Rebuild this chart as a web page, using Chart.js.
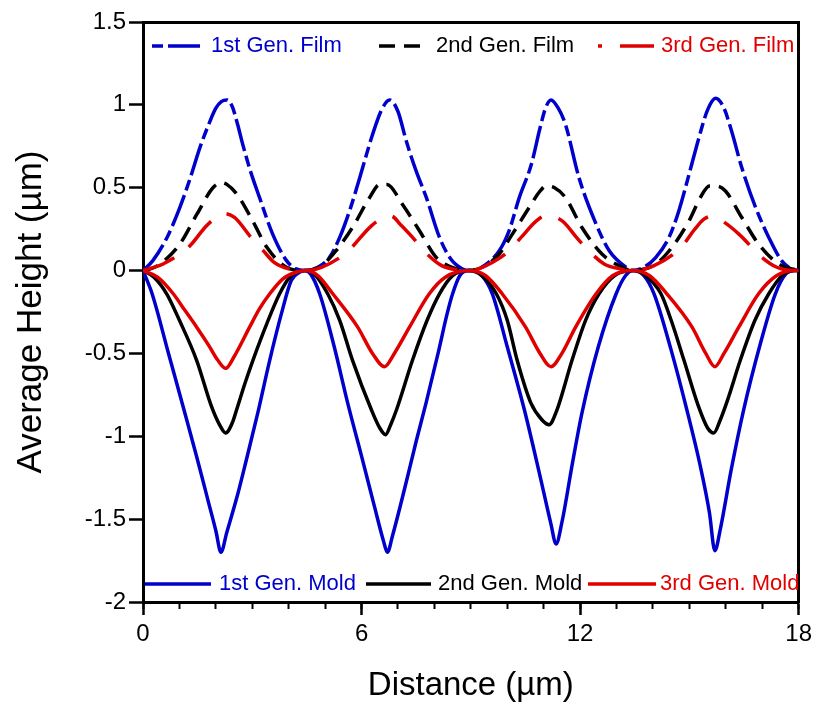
<!DOCTYPE html>
<html>
<head>
<meta charset="utf-8">
<script src="https://cdn.jsdelivr.net/npm/chart.js@4.4.1/dist/chart.umd.min.js"></script>
<style>
  html, body { margin: 0; padding: 0; background: #fff; }
</style>
</head>
<body>
<canvas id="grafico" width="817" height="706"></canvas>
<script>
// pontos: [distância (µm), altura média (µm)]
const film1st = [
  [0, 0], [0.27, 0.06], [0.66, 0.2], [1.01, 0.38], [1.3, 0.56], [1.56, 0.74], [1.8, 0.88], [2.0, 0.98], [2.15, 1.02], [2.3, 1.03],
  [2.45, 0.99], [2.6, 0.88], [2.74, 0.76], [2.95, 0.6], [3.2, 0.44], [3.56, 0.22], [3.94, 0.06], [4.2, 0.01], [4.45, 0],
  [4.8, 0.02], [5.12, 0.08], [5.4, 0.2], [5.7, 0.38], [5.95, 0.56], [6.3, 0.82], [6.55, 0.97], [6.77, 1.03], [7.0, 0.96],
  [7.23, 0.78], [7.5, 0.6], [7.78, 0.44], [8.14, 0.2], [8.45, 0.07], [8.77, 0.01], [8.95, 0],
  [9.3, 0.02], [9.78, 0.12], [10.05, 0.24], [10.33, 0.44], [10.66, 0.64], [10.9, 0.86], [11.05, 0.98], [11.2, 1.03],
  [11.4, 0.98], [11.6, 0.88], [11.97, 0.56], [12.44, 0.28], [12.8, 0.12], [13.26, 0.02], [13.45, 0],
  [13.75, 0.02], [14.08, 0.08], [14.44, 0.2], [14.71, 0.36], [14.99, 0.58], [15.26, 0.8], [15.5, 0.97], [15.72, 1.04],
  [15.95, 0.98], [16.16, 0.84], [16.44, 0.62], [16.82, 0.38], [17.18, 0.2], [17.53, 0.06], [17.8, 0.01], [18, 0]
];
const film2nd = [
  [0, 0], [0.2, 0.01], [0.47, 0.04], [1.01, 0.16], [1.48, 0.34], [1.92, 0.5], [2.15, 0.53], [2.3, 0.52], [2.58, 0.46],
  [3.01, 0.3], [3.4, 0.14], [3.94, 0.02], [4.45, 0],
  [4.9, 0.03], [5.3, 0.12], [5.75, 0.26], [6.22, 0.44], [6.5, 0.52], [6.7, 0.52], [7.12, 0.4], [7.59, 0.24], [8.05, 0.08],
  [8.6, 0.01], [8.95, 0],
  [9.4, 0.03], [9.78, 0.1], [10.14, 0.22], [10.6, 0.38], [10.9, 0.48], [11.07, 0.51], [11.3, 0.5], [11.6, 0.44],
  [12.05, 0.26], [12.6, 0.1], [13.15, 0.02], [13.45, 0],
  [14.08, 0.04], [14.52, 0.14], [14.99, 0.3], [15.3, 0.44], [15.55, 0.51], [15.75, 0.51], [15.99, 0.48], [16.44, 0.32],
  [16.9, 0.16], [17.45, 0.04], [18, 0]
];
const film3rd = [
  [0, 0], [0.55, 0.04], [1.29, 0.15], [1.7, 0.26], [2.0, 0.32], [2.2, 0.345], [2.52, 0.32], [2.93, 0.21], [3.3, 0.12],
  [3.6, 0.05], [4.0, 0.01], [4.45, 0],
  [4.9, 0.02], [5.59, 0.11], [6.27, 0.27], [6.6, 0.32], [6.8, 0.33], [7.1, 0.27], [7.4, 0.2], [7.8, 0.1], [8.2, 0.03],
  [8.6, 0.005], [8.95, 0],
  [9.2, 0.01], [9.6, 0.05], [10.0, 0.11], [10.38, 0.2], [10.8, 0.3], [11.1, 0.335], [11.35, 0.32], [11.56, 0.29],
  [11.9, 0.2], [12.19, 0.13], [12.66, 0.04], [13.1, 0.01], [13.45, 0],
  [14.03, 0.03], [14.77, 0.14], [15.15, 0.25], [15.4, 0.31], [15.62, 0.33], [15.9, 0.3], [16.36, 0.22], [16.99, 0.08],
  [17.4, 0.02], [17.9, 0], [18, 0]
];
const mold1st = [
  [0, 0], [0.25, -0.14], [0.7, -0.5], [1.1, -0.82], [1.47, -1.12], [1.8, -1.4], [2.0, -1.57], [2.14, -1.7], [2.3, -1.58],
  [2.6, -1.35], [2.84, -1.14], [3.15, -0.86], [3.48, -0.54], [3.8, -0.26], [4.07, -0.06], [4.3, -0.01], [4.45, 0],
  [4.6, -0.02], [4.85, -0.14], [5.25, -0.46], [5.62, -0.8], [6.0, -1.12], [6.35, -1.42], [6.6, -1.63], [6.71, -1.7],
  [6.85, -1.6], [7.2, -1.3], [7.5, -1.03], [7.77, -0.8], [8.1, -0.5], [8.35, -0.26], [8.5, -0.14], [8.7, -0.03], [8.95, 0],
  [9.3, -0.03], [9.59, -0.14], [10.0, -0.46], [10.47, -0.84], [10.9, -1.24], [11.2, -1.53], [11.34, -1.65], [11.5, -1.52],
  [11.8, -1.15], [12.05, -0.86], [12.5, -0.46], [12.99, -0.14], [13.25, -0.03], [13.45, 0],
  [13.75, -0.03], [14.03, -0.14], [14.5, -0.48], [14.93, -0.84], [15.3, -1.18], [15.55, -1.46], [15.7, -1.69], [15.85, -1.56],
  [16.15, -1.2], [16.49, -0.84], [16.95, -0.44], [17.36, -0.14], [17.65, -0.02], [17.9, 0], [18, 0]
];
const mold2nd = [
  [0, 0], [0.3, -0.04], [0.65, -0.14], [1.0, -0.3], [1.47, -0.54], [1.88, -0.82], [2.1, -0.93], [2.27, -0.98], [2.45, -0.92],
  [2.57, -0.84], [2.8, -0.68], [3.02, -0.54], [3.4, -0.32], [3.75, -0.14], [4.03, -0.04], [4.45, 0],
  [4.7, -0.02], [5.07, -0.14], [5.4, -0.3], [5.75, -0.54], [6.27, -0.84], [6.5, -0.95], [6.66, -0.99], [6.8, -0.93],
  [6.96, -0.84], [7.4, -0.54], [7.8, -0.3], [8.14, -0.14], [8.5, -0.03], [8.95, 0],
  [9.3, -0.03], [9.7, -0.14], [10.0, -0.3], [10.27, -0.54], [10.65, -0.8], [10.95, -0.9], [11.15, -0.93], [11.35, -0.85],
  [11.78, -0.54], [12.15, -0.3], [12.52, -0.14], [12.95, -0.03], [13.45, 0],
  [13.8, -0.03], [14.22, -0.14], [14.5, -0.3], [14.85, -0.54], [15.25, -0.82], [15.5, -0.95], [15.67, -0.98], [15.85, -0.9],
  [16.05, -0.78], [16.4, -0.54], [16.8, -0.3], [17.18, -0.14], [17.55, -0.03], [17.9, 0], [18, 0]
];
const mold3rd = [
  [0, 0], [0.4, -0.04], [0.83, -0.14], [1.15, -0.24], [1.47, -0.34], [1.8, -0.45], [2.05, -0.54], [2.27, -0.59], [2.5, -0.52],
  [2.93, -0.34], [3.2, -0.23], [3.48, -0.14], [3.84, -0.05], [4.2, -0.01], [4.45, 0],
  [4.8, -0.03], [5.21, -0.14], [5.89, -0.34], [6.3, -0.5], [6.63, -0.58], [6.9, -0.5], [7.32, -0.34], [7.86, -0.14],
  [8.3, -0.04], [8.95, 0],
  [9.4, -0.03], [9.86, -0.14], [10.5, -0.34], [10.9, -0.5], [11.2, -0.58], [11.5, -0.5], [11.88, -0.34], [12.44, -0.14],
  [12.9, -0.03], [13.45, 0],
  [13.9, -0.03], [14.38, -0.14], [15.07, -0.34], [15.45, -0.5], [15.7, -0.58], [15.95, -0.5], [16.36, -0.34], [16.9, -0.14],
  [17.4, -0.03], [17.9, 0], [18, 0]
];

const AZUL = '#0000cc';
const PRETO = '#000000';
const VERMELHO = '#e00000';

Chart.defaults.font.family = "'Liberation Sans', Arial, sans-serif";
Chart.defaults.color = '#000';

function serie(label, data, cor, tracejado, ordem) {
    return {
        label: label,
        data: data,
        borderColor: cor,
        backgroundColor: cor,
        borderWidth: 3.5,
        borderDash: tracejado,
        borderCapStyle: 'butt',
        pointRadius: 0,
        cubicInterpolationMode: 'monotone',
        fill: false,
        order: ordem
    };
}

// legendas dentro da área do gráfico (linha de cima: filmes, linha de baixo: moldes)
const linhasLegenda = [
    { y: 24, itens: [
        { label: '1st Gen. Film', x0: 9, x1: 57, tx: 68, offset: 38 },
        { label: '2nd Gen. Film', x0: 236, x1: 284, tx: 293, offset: 0 },
        { label: '3rd Gen. Film', x0: 455, x1: 511, tx: 518, offset: 30 }
    ]},
    { y: 562, itens: [
        { label: '1st Gen. Mold', x0: 2, x1: 68, tx: 76, offset: 0 },
        { label: '2nd Gen. Mold', x0: 223, x1: 288, tx: 295, offset: 0 },
        { label: '3rd Gen. Mold', x0: 445, x1: 513, tx: 517, offset: 0 }
    ]}
];

const legendaInterna = {
    id: 'legendaInterna',
    afterDatasetsDraw(chart) {
        const { ctx, chartArea } = chart;
        ctx.save();
        ctx.font = "22px 'Liberation Sans', Arial, sans-serif";
        ctx.textBaseline = 'middle';
        ctx.textAlign = 'left';
        linhasLegenda.forEach(linha => {
            const y = chartArea.top + linha.y;
            linha.itens.forEach(item => {
                const ds = chart.data.datasets.find(d => d.label === item.label);
                ctx.strokeStyle = ds.borderColor;
                ctx.lineWidth = ds.borderWidth;
                ctx.lineCap = 'butt';
                ctx.setLineDash(ds.borderDash || []);
                ctx.lineDashOffset = item.offset;
                ctx.beginPath();
                ctx.moveTo(chartArea.left + item.x0, y);
                ctx.lineTo(chartArea.left + item.x1, y);
                ctx.stroke();
                ctx.setLineDash([]);
                ctx.fillStyle = ds.borderColor;
                ctx.fillText(item.label, chartArea.left + item.tx, y);
            });
        });
        ctx.restore();
    }
};

function GraficoAltura(ctx) {
    const myChart = new Chart(ctx, {
        type: 'line',
        data: {
            datasets: [
                serie('1st Gen. Film', film1st, AZUL, [33, 5, 11, 5], 5),
                serie('2nd Gen. Film', film2nd, PRETO, [16, 9], 3),
                serie('3rd Gen. Film', film3rd, VERMELHO, [34, 18], 1),
                serie('1st Gen. Mold', mold1st, AZUL, [], 4),
                serie('2nd Gen. Mold', mold2nd, PRETO, [], 2),
                serie('3rd Gen. Mold', mold3rd, VERMELHO, [], 0)
            ]
        },
        options: {
            responsive: false,
            animation: false,
            layout: { padding: 0 },
            scales: {
                x: {
                    type: 'linear', position: 'bottom', min: 0, max: 18, weight: 1,
                    ticks: { stepSize: 6, font: { size: 24 }, padding: 5, maxRotation: 0 },
                    grid: { drawOnChartArea: false, tickLength: 13, tickWidth: 2.5, tickColor: '#000' },
                    border: { color: '#000', width: 3 },
                    title: { display: true, text: 'Distance (µm)', font: { size: 33 }, padding: { top: 0, bottom: 0 } },
                    afterFit: s => { s.height = 104; }
                },
                xMenor: {
                    type: 'linear', position: 'bottom', min: 0, max: 18, weight: 0,
                    ticks: { stepSize: 1, display: false },
                    grid: { drawOnChartArea: false, tickLength: 7, tickWidth: 2, tickColor: '#000' },
                    border: { display: false },
                    afterFit: s => { s.height = 0; }
                },
                xTopo: {
                    type: 'linear', position: 'top', min: 0, max: 18,
                    ticks: { display: false },
                    grid: { display: false },
                    border: { color: '#000', width: 3 },
                    afterFit: s => { s.height = 22; }
                },
                y: {
                    type: 'linear', position: 'left', min: -2, max: 1.5,
                    ticks: { stepSize: 0.5, font: { size: 24 }, padding: 3, callback: v => String(v) },
                    grid: { drawOnChartArea: false, tickLength: 14, tickWidth: 2.5, tickColor: '#000' },
                    border: { color: '#000', width: 3 },
                    title: { display: true, text: 'Average Height (µm)', font: { size: 35 }, padding: { top: 10, bottom: 0 } },
                    afterFit: s => { s.width = 143; }
                },
                yDireita: {
                    type: 'linear', position: 'right', min: -2, max: 1.5,
                    ticks: { display: false },
                    grid: { display: false },
                    border: { color: '#000', width: 3 },
                    afterFit: s => { s.width = 17; }
                }
            },
            plugins: {
                legend: { display: false },
                tooltip: { enabled: false }
            }
        },
        plugins: [legendaInterna]
    });
    return myChart;
}

GraficoAltura(document.getElementById('grafico'));
</script>
</body>
</html>
